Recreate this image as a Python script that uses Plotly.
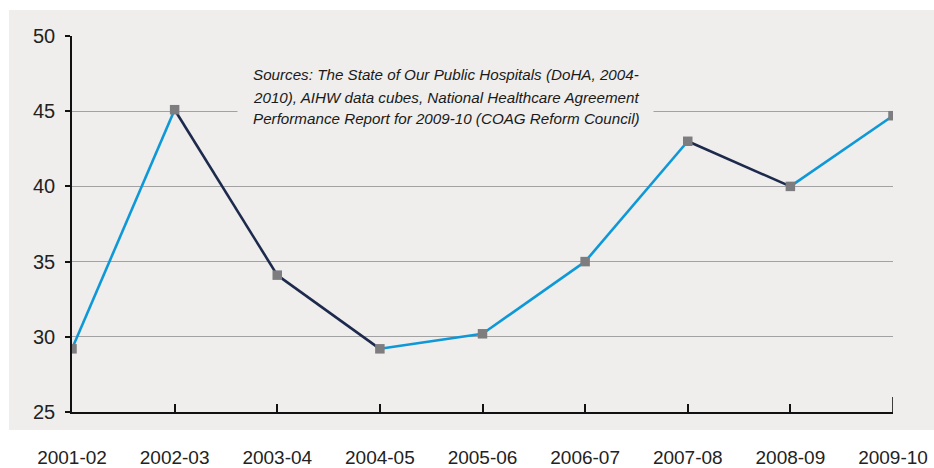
import plotly.graph_objects as go

# Financial years and measured values
years = ["2001-02", "2002-03", "2003-04", "2004-05", "2005-06",
         "2006-07", "2007-08", "2008-09", "2009-10"]
values = [29.2, 45.1, 34.1, 29.2, 30.2, 35.0, 43.0, 40.0, 44.7]

y_ticks = [25, 30, 35, 40, 45, 50]

source_lines = [
    "Sources: The State of Our Public Hospitals (DoHA, 2004-",
    "2010), AIHW data cubes, National Healthcare Agreement",
    "Performance Report for 2009-10 (COAG Reform Council)",
]

RISE = "#0e98d8"
FALL = "#1d2a4d"
MARKER = "#7d7d80"
BG = "#efeeec"
FONT = "Liberation Sans, Arial, sans-serif"

PLOT_W = 821.0  # plot area width in px
PLOT_H = 376.0  # plot area height in px

fig = go.Figure()

# Each segment coloured by direction: blue when rising, navy when falling
for i in range(len(years) - 1):
    colour = RISE if values[i + 1] >= values[i] else FALL
    fig.add_trace(go.Scatter(
        x=[i, i + 1], y=[values[i], values[i + 1]],
        mode="lines", line=dict(color=colour, width=2.6),
        hoverinfo="skip", showlegend=False,
    ))

fig.add_trace(go.Scatter(
    x=list(range(len(years))), y=values, mode="markers",
    marker=dict(symbol="square", size=9.5, color=MARKER),
    text=years, hovertemplate="%{text}: %{y}<extra></extra>",
    showlegend=False,
))

# Grey panel behind the chart
fig.add_shape(type="rect", xref="paper", yref="paper",
              x0=-0.0767, x1=1.05, y0=-0.048, y1=1.069,
              fillcolor=BG, line_width=0, layer="below")

# Taller closing tick at the last category
fig.add_shape(type="line", xref="x", yref="paper",
              x0=len(years) - 1, x1=len(years) - 1, y0=0, y1=0.04,
              line=dict(color="#111111", width=1.6))

# Blank patch behind the source note, hiding the gridline under it
fig.add_annotation(
    xref="paper", yref="paper",
    x=(237 - 72) / PLOT_W, y=(412 - 96) / PLOT_H,
    xanchor="left", yanchor="middle", showarrow=False,
    text=" ", width=415, height=70, bgcolor=BG, borderpad=0,
)

for k, line in enumerate(source_lines):
    fig.add_annotation(
        xref="paper", yref="paper",
        x=(251 - 72) / PLOT_W, y=(412 - (75 + 22 * k)) / PLOT_H,
        xanchor="left", yanchor="middle", showarrow=False, align="left",
        text=f"<i>{line}</i>",
        font=dict(family=FONT, size=15.2, color="#1a1a1a"),
    )

fig.update_layout(
    width=934, height=468,
    margin=dict(l=72, r=41, t=36, b=56),
    paper_bgcolor="white", plot_bgcolor="rgba(0,0,0,0)",
    font=dict(family=FONT, size=19, color="#222222"),
    xaxis=dict(
        range=[0, len(years) - 1], tickmode="array",
        tickvals=list(range(len(years))), ticktext=years,
        showgrid=False, zeroline=False, automargin=False,
        showline=True, linecolor="#111111", linewidth=1.6,
        ticks="inside", ticklen=8, tickwidth=1.6, tickcolor="#111111",
        ticklabelstandoff=27,
    ),
    yaxis=dict(
        range=[25, 50], tickmode="array", tickvals=y_ticks,
        showgrid=True, gridcolor="#a2a2a2", gridwidth=1.3,
        zeroline=False, automargin=False,
        showline=True, linecolor="#111111", linewidth=1.6,
        ticks="outside", ticklen=5, tickwidth=1.6, tickcolor="#111111",
        ticklabelstandoff=6, tickfont=dict(size=20),
    ),
)

fig.write_html("out.html")
